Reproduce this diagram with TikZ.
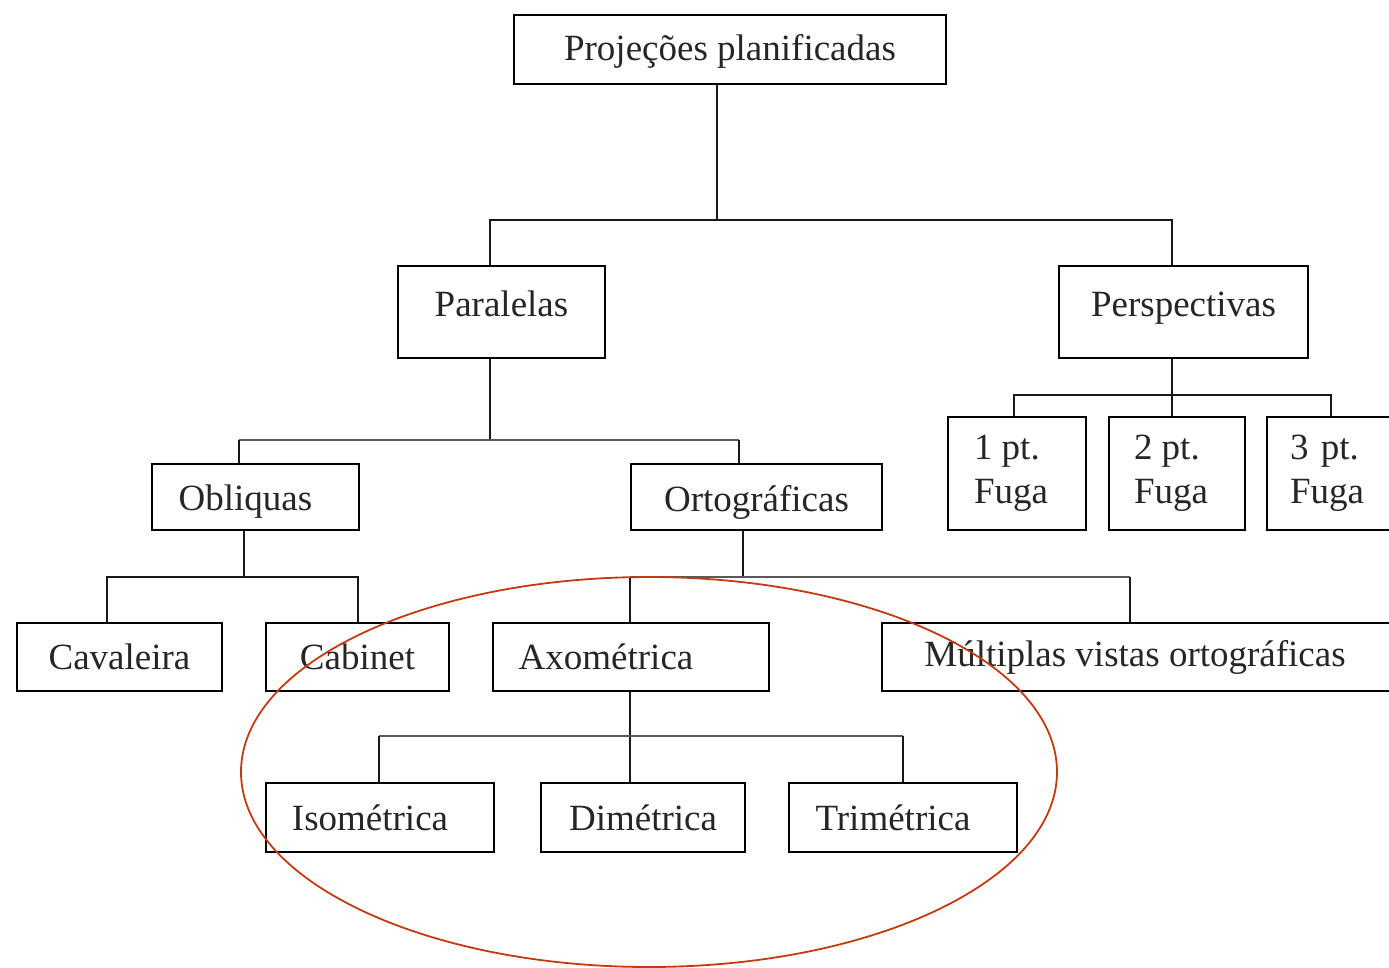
\documentclass[tikz,border=0pt]{standalone}
\usepackage{fontspec}
\setmainfont{Liberation Serif}
\definecolor{ellred}{RGB}{196,58,18}
\newcommand{\rs}[2]{\raisebox{#1}[\height][\depth]{#2}}
\begin{document}
\begin{tikzpicture}[x=1pt,y=-1pt,
  box/.style={draw, line width=2pt, anchor=north west, inner sep=0pt,
    font=\fontsize{37}{44}\selectfont, text=black!85},
  conn/.style={line width=2pt, black!90},
  hconn/.style={line width=1.6pt, black!65}]
\useasboundingbox (0,0) rectangle (1389,968);
\fill[white] (0,0) rectangle (1389,968);
% boxes
\node[box, minimum width=432pt, minimum height=69pt] (top) at (513,14) {\rs{-2pt}{Projeções planificadas}};
\node[box, minimum width=207pt, minimum height=92pt] (par) at (397,265) {\rs{8pt}{Paralelas}};
\node[box, minimum width=249pt, minimum height=92pt] (per) at (1058,265) {\rs{4pt}{Perspectivas}};
\node[box, minimum width=207pt, minimum height=66pt] (obl) at (151,463) {\rs{-5pt}{Obliquas\hspace*{20pt}}};
\node[box, minimum width=251pt, minimum height=66pt] (ort) at (630,463) {\rs{-5pt}{Ortográficas}};
\node[box, minimum width=138pt, minimum height=113pt, align=left] (f1) at (947,416) {\hspace*{-12pt}1 pt.\\\hspace*{-12pt}Fuga};
\node[box, minimum width=136pt, minimum height=113pt, align=left] (f2) at (1108,416) {\hspace*{-12pt}2 pt.\\\hspace*{-12pt}Fuga};
\node[box, minimum width=150pt, minimum height=113pt, align=left, text width=100pt] (f3) at (1266,416) {\hspace*{-2pt}3 pt.\\\hspace*{-2pt}Fuga};
\node[box, minimum width=205pt, minimum height=68pt] (cav) at (16,622) {Cavaleira};
\node[box, minimum width=183pt, minimum height=68pt] (cab) at (265,622) {Cabinet};
\node[box, minimum width=276pt, minimum height=68pt] (axo) at (492,622) {Axométrica\hspace*{50pt}};
\node[box, minimum width=520pt, minimum height=68pt] (mul) at (881,622) {Múltiplas vistas ortográficas\hspace*{14pt}};
\node[box, minimum width=228pt, minimum height=69pt] (iso) at (265,782) {Isométrica\hspace*{20pt}};
\node[box, minimum width=204pt, minimum height=69pt] (dim) at (540,782) {Dimétrica};
\node[box, minimum width=228pt, minimum height=69pt] (tri) at (788,782) {Trimétrica\hspace*{20pt}};
% junctions
\coordinate (j0) at (717,220);
\coordinate (j0l) at (490,220);
\coordinate (j0r) at (1172,220);
\draw[conn] (j0 |- top.south) -- (j0);
\draw[conn] (j0l |- par.north) -- (j0l) -- (j0r) -- (j0r |- per.north);
% Paralelas
\coordinate (j1) at (490,440);
\coordinate (j1l) at (239,440);
\coordinate (j1r) at (739,440);
\draw[conn] (j1 |- par.south) -- (j1);
\draw[hconn] (j1l) -- (j1r);
\draw[conn] (j1l) -- (j1l |- obl.north);
\draw[conn] (j1r) -- (j1r |- ort.north);
% Perspectivas
\coordinate (j2) at (1172,395);
\coordinate (j2l) at (1014,395);
\coordinate (j2r) at (1331,395);
\draw[conn] (j2 |- per.south) -- (j2) -- (j2 |- f2.north);
\draw[conn] (j2l |- f1.north) -- (j2l) -- (j2r) -- (j2r |- f3.north);
% Obliquas
\coordinate (j3) at (244,577);
\coordinate (j3l) at (107,577);
\coordinate (j3r) at (358,577);
\draw[conn] (j3 |- obl.south) -- (j3);
\draw[conn] (j3l |- cav.north) -- (j3l) -- (j3r) -- (j3r |- cab.north);
% Ortograficas
\coordinate (j4) at (743,577);
\coordinate (j4l) at (630,577);
\coordinate (j4r) at (1130,577);
\draw[conn] (j4 |- ort.south) -- (j4);
\draw[hconn] (j4l) -- (j4r);
\draw[conn] (j4l) -- (j4l |- axo.north);
\draw[conn] (j4r) -- (j4r |- mul.north);
% Axometrica
\coordinate (j5) at (630,736);
\coordinate (j5l) at (379,736);
\coordinate (j5r) at (903,736);
\draw[conn] (j5 |- axo.south) -- (j5 |- dim.north);
\draw[hconn] (j5l) -- (j5r);
\draw[conn] (j5l) -- (j5l |- iso.north);
\draw[conn] (j5r) -- (j5r |- tri.north);
% ellipse
\draw[ellred, line width=1.8pt] (649,772) ellipse [x radius=408, y radius=195];
\end{tikzpicture}
\end{document}
